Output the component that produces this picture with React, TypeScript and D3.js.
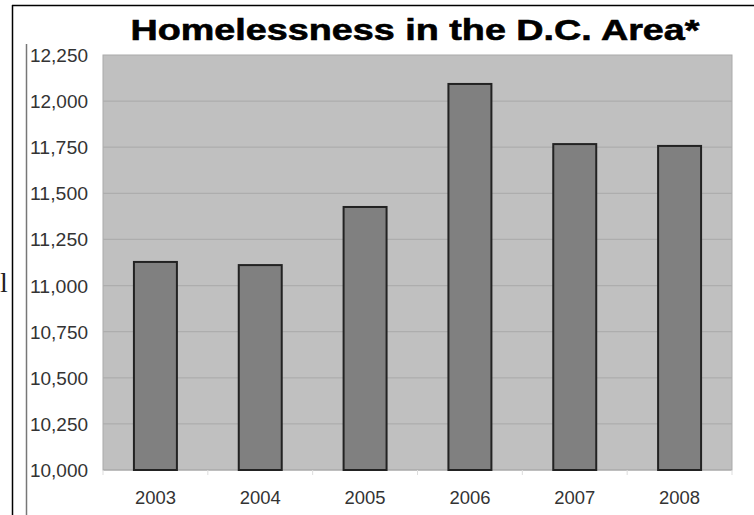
import React from "react";
import * as d3 from "d3";

const years = ["2003", "2004", "2005", "2006", "2007", "2008"];
const homeless = [11128, 11111, 11426, 12093, 11767, 11757];
const yTicks = [10000, 10250, 10500, 10750, 11000, 11250, 11500, 11750, 12000, 12250];
const title = "Homelessness in the D.C. Area*";

export default function App() {
  const W = 754, H = 515;
  const left = 103, right = 732, top = 55, bottom = 470;
  const x = d3.scaleBand<string>().domain(years).range([left, right]).paddingInner(0.59).paddingOuter(0.295);
  const y = d3.scaleLinear().domain([10000, 12250]).range([bottom, top]);
  const fmt = d3.format(",");
  const step = (right - left) / years.length;
  const bounds = d3.range(years.length + 1).map((i) => left + i * step);

  return (
    <svg width={W} height={H} style={{ position: "absolute", left: 0, top: 0, background: "#fff" }}>
      <rect x={0} y={0} width={W} height={H} fill="#fff" />
      {/* outer frame */}
      <line x1={12.5} y1={5} x2={12.5} y2={H} stroke="#000" strokeWidth={1.5} />
      <line x1={12} y1={5.5} x2={W} y2={5.5} stroke="#000" strokeWidth={1.5} />
      <text x={0} y={292} fontFamily="Liberation Serif" fontSize={28} fill="#222">l</text>
      {/* left gray rule */}
      <line x1={26.5} y1={44} x2={26.5} y2={H} stroke="#777" strokeWidth={1.5} />
      {/* plot area */}
      <rect x={left} y={top} width={right - left} height={bottom - top} fill="#c0c0c0" stroke="#aaa" strokeWidth={1} />
      {yTicks.slice(1, -1).map((t) => (
        <line key={t} x1={left} x2={right} y1={y(t)} y2={y(t)} stroke="#adadad" strokeWidth={1.3} />
      ))}
      <line x1={left} x2={right} y1={bottom} y2={bottom} stroke="#a8a8a8" strokeWidth={1} />
      {bounds.map((b, i) => (
        <line key={i} x1={b} x2={b} y1={bottom} y2={bottom + 5} stroke="#ddd" strokeWidth={1} />
      ))}
      {yTicks.map((t) => (
        <text key={t} x={88} y={y(t) + 7} textAnchor="end" fontFamily="Liberation Sans, Arial" fontSize={18}
          fill="#333" textLength={58} lengthAdjust="spacingAndGlyphs">
          {fmt(t)}
        </text>
      ))}
      {years.map((yr, i) => (
        <rect key={yr} x={x(yr)} y={y(homeless[i])} width={x.bandwidth()} height={bottom - y(homeless[i])}
          fill="#808080" stroke="#222" strokeWidth={2} />
      ))}
      {years.map((yr) => (
        <text key={yr} x={(x(yr) as number) + x.bandwidth() / 2} y={504} textAnchor="middle"
          fontFamily="Liberation Sans, Arial" fontSize={18} fill="#333" textLength={41} lengthAdjust="spacingAndGlyphs">
          {yr}
        </text>
      ))}
      <text x={415} y={40} textAnchor="middle" fontFamily="Liberation Sans, Arial" fontWeight="bold" fontSize={30}
        fill="#000" textLength={569} lengthAdjust="spacingAndGlyphs" stroke="#000" strokeWidth={0.6}>
        {title}
      </text>
    </svg>
  );
}
